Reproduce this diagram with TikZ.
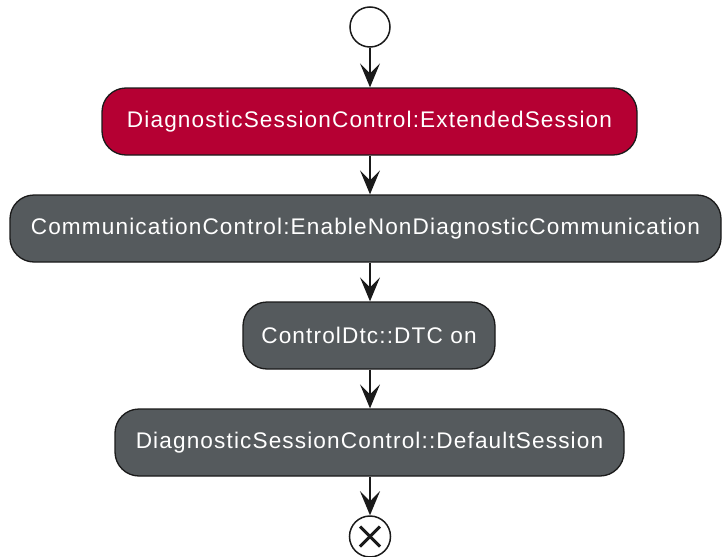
\documentclass[tikz,border=0pt]{standalone}
\usepackage{fontspec}
\setmainfont{Liberation Sans}[LetterSpace=5]
\usetikzlibrary{arrows.meta}
\definecolor{actred}{HTML}{B50033}
\definecolor{actgray}{HTML}{555A5D}
\definecolor{edge}{HTML}{1A1A1A}
\tikzset{
  activity/.style={draw=edge, line width=1.3pt, rounded corners=24pt, text=white,
    font=\fontsize{22.6}{26}\selectfont, inner sep=0pt, minimum height=67pt},
  flow/.style={draw=edge, line width=1.5pt, -{Stealth[length=24pt,width=20pt,inset=10pt]}},
}
\begin{document}
\begin{tikzpicture}[x=1pt,y=-1pt]
\useasboundingbox (0,0) rectangle (724,557);
% start and end markers
\node[circle, draw=edge, line width=1.5pt, fill=white, minimum size=40pt, inner sep=0pt] (start) at (370,27) {};
% activities
\node[activity, fill=actred, minimum width=535pt] (a1) at (369.5,121.5) {DiagnosticSessionControl:ExtendedSession};
\node[activity, fill=actgray, minimum width=711pt] (a2) at (365.5,228.5) {CommunicationControl:EnableNonDiagnosticCommunication};
\node[activity, fill=actgray, minimum width=252pt] (a3) at (369,335.5) {ControlDtc::DTC on};
\node[activity, fill=actgray, minimum width=509pt] (a4) at (369.5,442.5) {DiagnosticSessionControl::DefaultSession};
\node[circle, draw=edge, line width=1.5pt, fill=white, minimum size=41pt, inner sep=0pt] (stop) at (370,536.5) {};
\draw[edge, line width=3pt] (stop.center) ++(-10,-10) -- ++(20,20);
\draw[edge, line width=3pt] (stop.center) ++(10,-10) -- ++(-20,20);
% flow, kept on the vertical axis through the start marker
\draw[flow] (start) -- (a1.north -| start);
\draw[flow] (a1.south -| start) -- (a2.north -| start);
\draw[flow] (a2.south -| start) -- (a3.north -| start);
\draw[flow] (a3.south -| start) -- (a4.north -| start);
\draw[flow] (a4.south -| start) -- (stop);
\end{tikzpicture}
\end{document}
